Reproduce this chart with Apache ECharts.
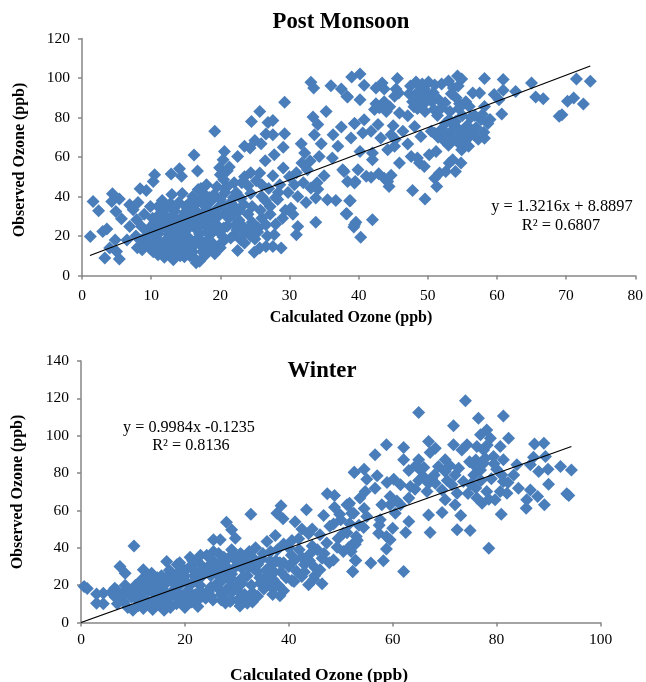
<!DOCTYPE html>
<html>
<head>
<meta charset="utf-8">
<title>Ozone scatter</title>
<script src="https://cdn.jsdelivr.net/npm/echarts@6/dist/echarts.min.js"></script>
<style>
  html, body { margin: 0; padding: 0; background: #fff; }
  #chart { width: 646px; height: 682px; }
</style>
</head>
<body>
<div id="chart"></div>
<script>
// values
var postEdgePoints = [
  [1.2,19.8],[1.6,37.5],[2.4,32.8],[3,22.3],[3.6,23.5],[3.3,8.8],[4.4,41.4],[4.3,37.5],[5.4,38.7],[4.9,32.4],
  [5.7,28.7],[4.8,18],[5.4,8.3],[4,13.9],[5,12.2],[6.9,35.8],[8.1,37],[7.4,33.3],[6.9,24.8],[7.9,28.2],
  [8.6,24.8],[8.4,43.9],[9.3,43],[9.9,35],[10.5,51],[10.3,47.6],[12.9,51.4],[14.1,54],[14.4,50.2],[16.2,61],
  [16.7,52.9],[19.2,73.1],[20.6,62.8],[20.4,58.6],[22.5,60.3],[23.5,65.4],[24.3,64.5],[24.5,78],[25.7,83.1],[25,68.4],
  [25.9,66.7],[26.6,71.6],[27.6,71.3],[26.9,77.5],[27.6,78.5],[29.3,87.7],[29.3,71.8],[29.1,65],[27.8,61.1],[26.5,58.1],
  [29.1,54.4],[27.6,50.5],[25.7,51.9],[33.1,97.8],[33.5,94.9],[36,96.1],[37.5,94.4],[38.4,90.4],[39,100.5],[40.2,102],
  [35.3,83.1],[33.4,80.2],[34.1,76.4],[33.6,71.3],[37.5,75.2],[36.3,71.3],[39.4,76.9],[38.9,69.6],[34.6,66.7],[37,65.4],
  [31.7,66.7],[32.2,62],[34.3,60.3],[36.2,59.5],[37.7,53.5],[35,50.5],[32.6,53.5],[38.4,47.6],[39.4,46.8],[30.7,45.9],
  [33.1,44.3],[34.1,43.7],[31.2,40],[32.4,37],[33.8,39.2],[35.5,38.3],[36.7,38],[38.7,37.8],[38.2,31.3],[33.8,26.9],
  [39.4,25.7],[40.3,19.4],[31.2,24.8],[31,20.6],[30.2,34.1],[29,29],[27.8,20.6],[28.8,13.9],[27.6,14.7],[26.6,14.7],
  [25.7,13.9],[24.9,11.8],[22.5,12.7],[23.5,16.4],[23.3,24.8],[26.6,25.7],[28,26],[29.4,33],[30.5,31],[28.3,38.5],
  [30,50],[31,52],[31.8,57],[33,58],[32,47],[34,47],[29.8,42],[28.6,46]
];
var postBlobPoints = [
  [6.5,18],[7.8,20],[8,14],[8.7,13],[9.5,16],[9.9,13.5],[10.3,12],[10.8,11.5],[11.3,15],[11.9,9.3],
  [12.6,10.5],[13.2,8],[13.5,12.5],[14.2,10],[14.8,9.5],[15.6,10],[15.3,13.5],[16.5,6.5],[17,7.2],[17.4,12],
  [18.1,13],[19.2,11],[20,14],[20.3,17],[19,16],[17.9,17.2],[16.4,16],[14.7,16],[13,15.5],[12,17.5],
  [10.7,19],[9.4,20.5],[11.2,23],[12.5,21],[14,20],[15.4,19.3],[17,21],[18.5,20.5],[19.8,22],[21.5,19],
  [22.4,23],[21,25],[19.4,26],[17.9,25.5],[16.2,24.5],[14.6,24],[13.2,25],[11.8,26.5],[10.5,27],[10.9,30],
  [12.3,29.5],[13.8,28],[15.2,28],[16.7,29],[18.2,29.5],[19.7,30],[21.2,29],[22.7,28],[24.4,20],[25.4,22],
  [24.6,27],[26,29],[27.2,31],[24,31],[22.8,33],[21.3,33],[19.6,34],[18,33.5],[16.4,33],[14.9,32],
  [13.4,32.5],[12,33.5],[11,35],[11.6,38],[13,41],[14.5,41.5],[15.6,37],[17,38],[18.6,37.5],[20,38.5],
  [21.5,37],[23,39],[24.6,35],[25.8,33],[27.2,35],[28,39.5],[28.4,42],[26,40],[24.4,41.5],[22.3,42],
  [20.7,42],[19.1,41],[17.6,41.5],[17.2,44],[18,46],[16.8,43.5],[19.5,45],[20.5,48.5],[20,51],[21,53],
  [19.9,54.5],[23.5,50],[24.4,52],[23.1,47],[24,45.5],[25.2,48],[26,46],[27,44],[26.5,38],[21,45],
  [22,47],[21.3,55],[20.6,44],[16,40],[12.8,36.5],[15,35],[14,37],[9,31],[10,25],[9.5,22],
  [8.5,18],[11,21],[13,18.5],[15,22.5],[16.8,19],[18.3,15.7],[19.4,23.5],[13.5,22.5],[12,13],[10.5,16.5],
  [14.7,13],[16,12],[17.3,15],[12.2,23.8],[14.5,26.5],[16,27],[17.5,31],[19,28],[20.5,24],[15.7,31],
  [13,30],[11.5,32],[22,20.5],[23,18],[25,18.5],[26.8,20],[25.5,24],[24.2,24],[21.8,31],[20.3,36],
  [9.2,18],[10,14.5],[11,10.5],[11.7,12.5],[12.8,13.8],[13.9,14.6],[15.2,11],[16.2,9],[17.8,10.2],[18.8,13.8],
  [20.4,19.5],[18.2,22.8],[16.7,24],[15.7,17.5],[14.3,22],[12.7,27.5],[11.5,25],[10.2,22.5],[10.2,29],[11.6,29],
  [13.3,34],[14.6,30],[16.2,35.5],[17.7,35.5],[19,32],[20.7,31.5],[22,35],[23.4,36],[22.1,25.5],[23.6,21.5],
  [15.1,26],[17.3,26.8],[18.7,24],[13.2,20.5],[15.9,14.5],[17,17.5],[12.3,15.2],[14,17.4],[18.4,39.5],[21.9,39.5]
];
var postRightPoints = [
  [40.8,96.3],[38.3,90.7],[40.2,89],[42.5,94.9],[43.4,97.5],[43.7,94.4],[45.6,99.7],[45.4,94.4],[45.8,92.4],[45.2,90.8],
  [58.2,99.7],[60.9,99.2],[65,97.5],[71.5,99.5],[73.5,98.3],[71.1,89.9],[70.2,88.2],[72.5,86.8],[69.4,81.4],[69,80.6],
  [65.6,90.4],[66.7,89.5],[62.7,93.2],[60.9,93.8],[59.6,91.6],[60.3,89],[60.7,81.8],[56.5,92.4],[57.5,92.4],[56,85.6],
  [58.2,85.6],[45.9,82.3],[47.1,80.9],[43.7,88],[43,85],[44.5,85.5],[42.3,84],[40.8,78.9],[39.4,76.9],[42.8,76.4],
  [45,75.8],[40.6,72.1],[41.8,73],[43.2,69.6],[44.7,71.3],[46.4,73],[48.1,75.5],[49,70.4],[47.1,66.6],[45.2,65.4],
  [44.2,63.7],[40.2,62.8],[42,62],[42,58.6],[45.9,56.9],[47.6,60.3],[48.5,59.5],[50.2,61.1],[51.2,62.8],[48.8,56.9],
  [49.5,55.2],[53.1,56.9],[54.8,56.9],[53.6,58.6],[54,52.7],[52.6,52.7],[51.7,51.9],[51,49.3],[51.3,45.1],[47.8,43.1],
  [49.6,38.7],[54.9,63.7],[55.9,65.4],[39.9,53.5],[37.9,52.7],[39.5,47.6],[41.1,50.2],[41.8,49.8],[42.9,51.5],[43.7,49.3],
  [44.7,50.7],[44.4,45.1],[44.2,47.6],[38.8,37.8],[38.3,31.3],[39.6,26.9],[39.3,24.5],[42,28.2],
  // upper cluster around 47-55 / 82-100
  [47.5,96],[48.3,98],[49.2,97],[50.1,98],[51,96.5],[52,97],[53,98.5],[54.3,101],[54.9,99.5],[54.4,96],
  [47.3,92],[48.6,93],[49.8,92],[50.8,92.5],[53.4,92],[54.1,90],[47.8,88],[49,89],[50.6,88],
  [51.6,89],[48.5,84.5],[49.6,83],[50.9,84],[52,85],[53.2,83],[54.5,84.5],[55.5,88],[51.4,81],
  // lower cluster around 51-59 / 64-82
  [51.5,70],[52.3,68.5],[53,66],[53.4,73],[52.5,77],[54,78],[54.5,70.5],[55,66.5],[55.4,73],[55.7,76],
  [56.2,80],[56.6,71.5],[57,75],[57.3,69],[57.7,79],[58.1,72.5],[58.7,77],[58.2,69.5],[59,79],[56.8,81],
  [53.7,69],[54.2,75],[55.8,69.5],[57.9,81.5],[50.5,73],[52,74],[53.1,79],[55,81],
  [48.2,90.5],[49.5,94.5],[50.3,90],[53.7,95],[48,85.5],[49.3,86.5],[52.5,87.5],
  [54.6,87],[52.8,71.5],[53.8,76],[56.1,74],[54.5,67],[53,68.5],[51,72],[42.5,87],[44,83],[45.3,69]
];
var postMonsoonPoints = postEdgePoints.concat(postBlobPoints, postRightPoints);
var postTrendLine = [[1.15, 10.1], [73.5, 106.1]];

var winterEdgePoints = [
  [0.6,19.3],[1.2,18.2],[3,15.3],[4.3,15.7],[3,10.3],[4.3,10],[10.2,41],[7.5,30],[8.5,26.4],[6.5,18.4],
  [12,28.2],[13.6,26.4],[16.5,32.7],[19,30],[25.5,44.3],[26.8,44.3],[28,53.7],[29,49.6],[29.7,45.1],[32.7,58],
  [38.5,62.5],[37.7,58.5],[38.9,55.5],[41.2,54],[43.4,60.3],[46.7,57.3],[47.4,68.9],[48.8,68],[48.8,61.7],[52.6,80.5],
  [51.7,63.9],[51.2,63],[52.5,58.5],[48.6,52.8],[50.5,47.8],[47.9,51.5],[37.4,46.6],[35.8,43.4],[40.6,43.9],[41.9,44.8],
  [43.8,47.5],[47.3,42.5],[49.3,40.3],[52.5,42.5],[48.6,33.5],[46.4,34.4],[46,28.2],[52.8,33.2],[52.3,27.3],[46.4,20.7],
  [44.8,23.2],[43.8,20.2],[40.6,22.5],[42.5,24.6],[38.3,14.3],[36.5,38],[32,10.3],[30.6,8.9],[28.7,11.2],[44,36.5],
  [42,39],[44.5,41],[41,33],[43,31],[45,29.5],[41.5,27.5],[40,30],[38.5,27],[37.5,33],[37,23],
  [39,32],[40.5,36],[42.5,35],[44,33],[45.5,39],[46.8,37],[47.8,32],[49.5,45],[50.5,38],[51.5,40],
  [39.5,24],[41,22],[43,27],[45,25],[37.8,39],[39,42],[40,40],[46,47],[44.5,50],[42.5,50],
  [50,55],[53.5,52],[54.5,61],[49.8,58]
];
var winterBlobPoints = [
  [5.8,16],[6.6,13.5],[7,10],[7.6,15],[8.2,11],[8.9,18],[9,8],[9.7,13.5],[10,6.5],[10.5,20],
  [11,9],[11.3,14],[11.7,23],[12,7.5],[12.5,18],[13,11],[13.4,22.5],[13.8,7],[14.2,15],[14.7,24],
  [15,9.5],[15.5,19],[16,6.5],[16.3,12.5],[16.8,25],[17.2,8],[17.6,16],[18,21],[18.4,10],[18.9,27],
  [19.4,13],[19.7,23],[20,8],[20.5,17],[21,30],[21.3,11],[21.8,25],[22.3,33],[22.5,8.5],[22.9,20],
  [23.3,14],[23.7,29],[24.2,36],[24.6,17],[25,25],[25.4,12],[25.8,32],[26.2,21],[26.5,37],[27,15],
  [27.4,28],[27.8,10.5],[28.2,34],[28.6,23],[29,39],[29.3,17],[29.8,30],[30.2,12],[30.7,37],[31,24],
  [31.5,15],[31.9,33],[32.4,38],[32.8,20],[33.2,29],[33.6,40],[34,14],[34.4,24],[34.8,34],[35.2,18],
  [35.6,28],[36,21],[36.4,33],[36.9,15],[37.2,27],[38,20],[38.3,32],[12,13],[13,17],[14,20],
  [15,14],[16,22],[17,13],[18,18],[19,23],[20,12],[21,20],[22,15],[23,24],[24,13],
  [25,19],[26,27],[27,22],[28,16],[29,26],[30,19],[31,29],[32,25],[33,16],[34,31],
  [8,14],[9.5,16],[10.8,12],[12.8,25],[14,11],[15.5,25],[17,28],[18.5,31],[20,28],[21.5,33],
  [23,31],[24.5,30],[25.5,38],[27.5,35],[29.5,34],[30.5,33],[26.5,31],[24,27],[22,27],[20,25],
  [18,25],[16,17],[14.5,18],[11,17],[35,37],[36,25],[33,35],[31,36],[28,30],[23,17],
  [19,15],[21,16],[27,12],[25,14],[29,12],[31,13],[33,11],[35,20],[37,18],[39,17],
  [7,17],[8.5,20],[10,17.5],[11.5,20],[13,22],[14.5,22],[16,20],[17.5,22],[19,20],[20.5,21],
  [22,23],[23.5,26],[25,30],[26.5,25],[28,26],[29.5,22],[31,21],[32.5,30],[34,27],[35.5,24],
  [12.5,10],[14.5,13],[16.5,10],[18.5,14],[20.5,14],[22.5,12],[24.5,16],[26.5,18],[28.5,19],[30.5,16],
  [32.5,14],[34.5,21],[36.5,30],[19,32],[21,35],[23,36],[25,34],[27,31],[29,36],[31,32]
];
var winterRightPoints = [
  [74,118.7],[65,112.4],[76.5,109.4],[81.3,110.6],[71.7,105.3],[78.1,103.1],[76.9,100.5],[82.3,98.7],[66.9,96.9],[68.2,93.3],
  [67.2,91],[62.1,93.7],[58.8,95.1],[56.6,89.8],[62.1,87.1],[65,87.1],[63.1,81.4],[54.5,82.1],[52.6,80.3],[55,76.7],
  [57,78.5],[58.9,74.9],[60.2,76.7],[61.5,73.7],[63.4,72.8],[63.1,66.6],[65.3,81.7],[65.9,78.2],[66.9,74.6],[68.2,74.6],
  [66.6,70.1],[64.3,71.4],[70.1,87.1],[68.8,83.5],[70.1,80.8],[71.7,95.1],[73.3,92.4],[74.3,95.1],[76.2,94.2],[77.5,92.4],
  [78.8,98.7],[78.2,95],[80.7,94.2],[79.4,88.9],[81.3,87.1],[75.6,84.4],[77.5,85.3],[76.9,81.7],[75.6,79],[72.7,82.6],
  [72,79],[73.6,75.5],[71.4,73.7],[72.4,69.2],[70.1,65.7],[72,63],[73.1,57.3],[69.5,58.9],[66.9,57.6],[63.1,54.1],
  [62.5,48.2],[67.2,48.2],[72.4,49.6],[74.9,49.3],[78.5,39.8],[80.9,58],[76.2,66.6],[77.2,63.9],[78.1,70.1],[79.7,65.7],
  [80.7,70.1],[82,69.2],[81.3,75.5],[83.3,79],[83.9,84.4],[84.2,71.9],[86.5,71],[85.8,65.7],[85.7,61.2],[87.9,67.5],
  [89.2,63],[90,74],[88.1,80.8],[89.9,82.1],[86.5,84.4],[87.1,88.5],[89.4,88.9],[87.3,95.5],[89.1,96],[92.3,83.5],
  [94.4,81.7],[93.5,68.9],[93.9,68],[52.8,41.9],[58.2,33],[55.8,31.8],[52.9,33.2],[52.3,27.3],[62.1,27.3],[57.6,55],
  [54.4,50.9],[57.3,47.8],[60,50.5],[59.5,44.3],[58.8,39.4],[60.5,58.5],[59.5,63],[57.9,63],[55,56.7],[52.1,58.5],
  [51.5,63],[53.7,66.6],[54.7,70.1],[56.6,71.9],[59.5,67.5],[61.5,63],[57.4,52],[58.8,46],[53,46],[51.2,48],
  [52,38],[53.2,44],[51.7,53],[60.8,65],[79,77],[80,82],[77,76],[75,74],[74.5,69],[76,72],
  [78.5,66],[79.5,85],[76,87],[77.8,88],[74.8,86],[82.2,75],[81,79],[67.5,77],[66,83],[69.5,71],
  [70.5,76],[71,84],[65,76],[68,79],[64.5,84]
];
var winterPoints = winterEdgePoints.concat(winterBlobPoints, winterRightPoints);
var winterTrendLine = [[0, 0], [94.4, 94.2]];

var serif = '"Liberation Serif", "Times New Roman", serif';
var dotColor = '#4a7ebb';
var axisColor = '#868686';

function makeAxis(gridIndex, max, interval, margin) {
  return {
    type: 'value', gridIndex: gridIndex, min: 0, max: max, interval: interval,
    axisLine: { show: true, lineStyle: { color: axisColor, width: 1.5 } },
    axisTick: { show: true, length: 4, lineStyle: { color: axisColor, width: 1.5 } },
    axisLabel: { fontFamily: serif, fontSize: 15.5, color: '#000', margin: margin },
    splitLine: { show: false }
  };
}

function scatterSeries(index, points) {
  return {
    type: 'scatter', xAxisIndex: index, yAxisIndex: index, data: points,
    symbol: 'diamond', symbolSize: 13, itemStyle: { color: dotColor, opacity: 1 },
    z: 2, animation: false
  };
}

function trendSeries(index, points) {
  return {
    type: 'line', xAxisIndex: index, yAxisIndex: index, data: points,
    symbol: 'none', lineStyle: { color: '#000', width: 1.2 }, z: 3, animation: false
  };
}

function label(text, x, y, size, bold, rotation) {
  return {
    type: 'text', x: x, y: y, z: 10, rotation: rotation || 0,
    style: {
      text: text, fill: '#000', align: 'center', verticalAlign: 'middle',
      font: (bold ? 'bold ' : '') + size + 'px ' + serif
    }
  };
}

var chart = echarts.init(document.getElementById('chart'), null, { renderer: 'canvas' });
chart.setOption({
  animation: false,
  backgroundColor: '#fff',
  grid: [
    { left: 82, top: 38.5, width: 554.5, height: 237 },
    { left: 81, top: 361, width: 519.5, height: 261.5 }
  ],
  xAxis: [
    makeAxis(0, 80, 10, 12),
    makeAxis(1, 100, 20, 9)
  ],
  yAxis: [
    makeAxis(0, 120, 20, 12),
    makeAxis(1, 140, 20, 12)
  ],
  series: [
    scatterSeries(0, postMonsoonPoints),
    trendSeries(0, postTrendLine),
    scatterSeries(1, winterPoints),
    trendSeries(1, winterTrendLine)
  ],
  graphic: [
    label('Post Monsoon', 341, 22, 22.7, true),
    label('Winter', 322, 371, 22.7, true),
    label('Calculated Ozone (ppb)', 351, 318, 16, true),
    label('Calculated Ozone (ppb)', 319, 675, 17.5, true),
    label('Observed Ozone (ppb)', 20, 160, 16, true, Math.PI / 2),
    label('Observed Ozone (ppb)', 18, 492, 16, true, Math.PI / 2),
    label('y = 1.3216x + 8.8897', 562, 207, 16.4),
    label('R² = 0.6807', 561, 226, 16.4),
    label('y = 0.9984x -0.1235', 189, 428, 16.2),
    label('R² = 0.8136', 191, 446, 16.2)
  ]
});
</script>
</body>
</html>
